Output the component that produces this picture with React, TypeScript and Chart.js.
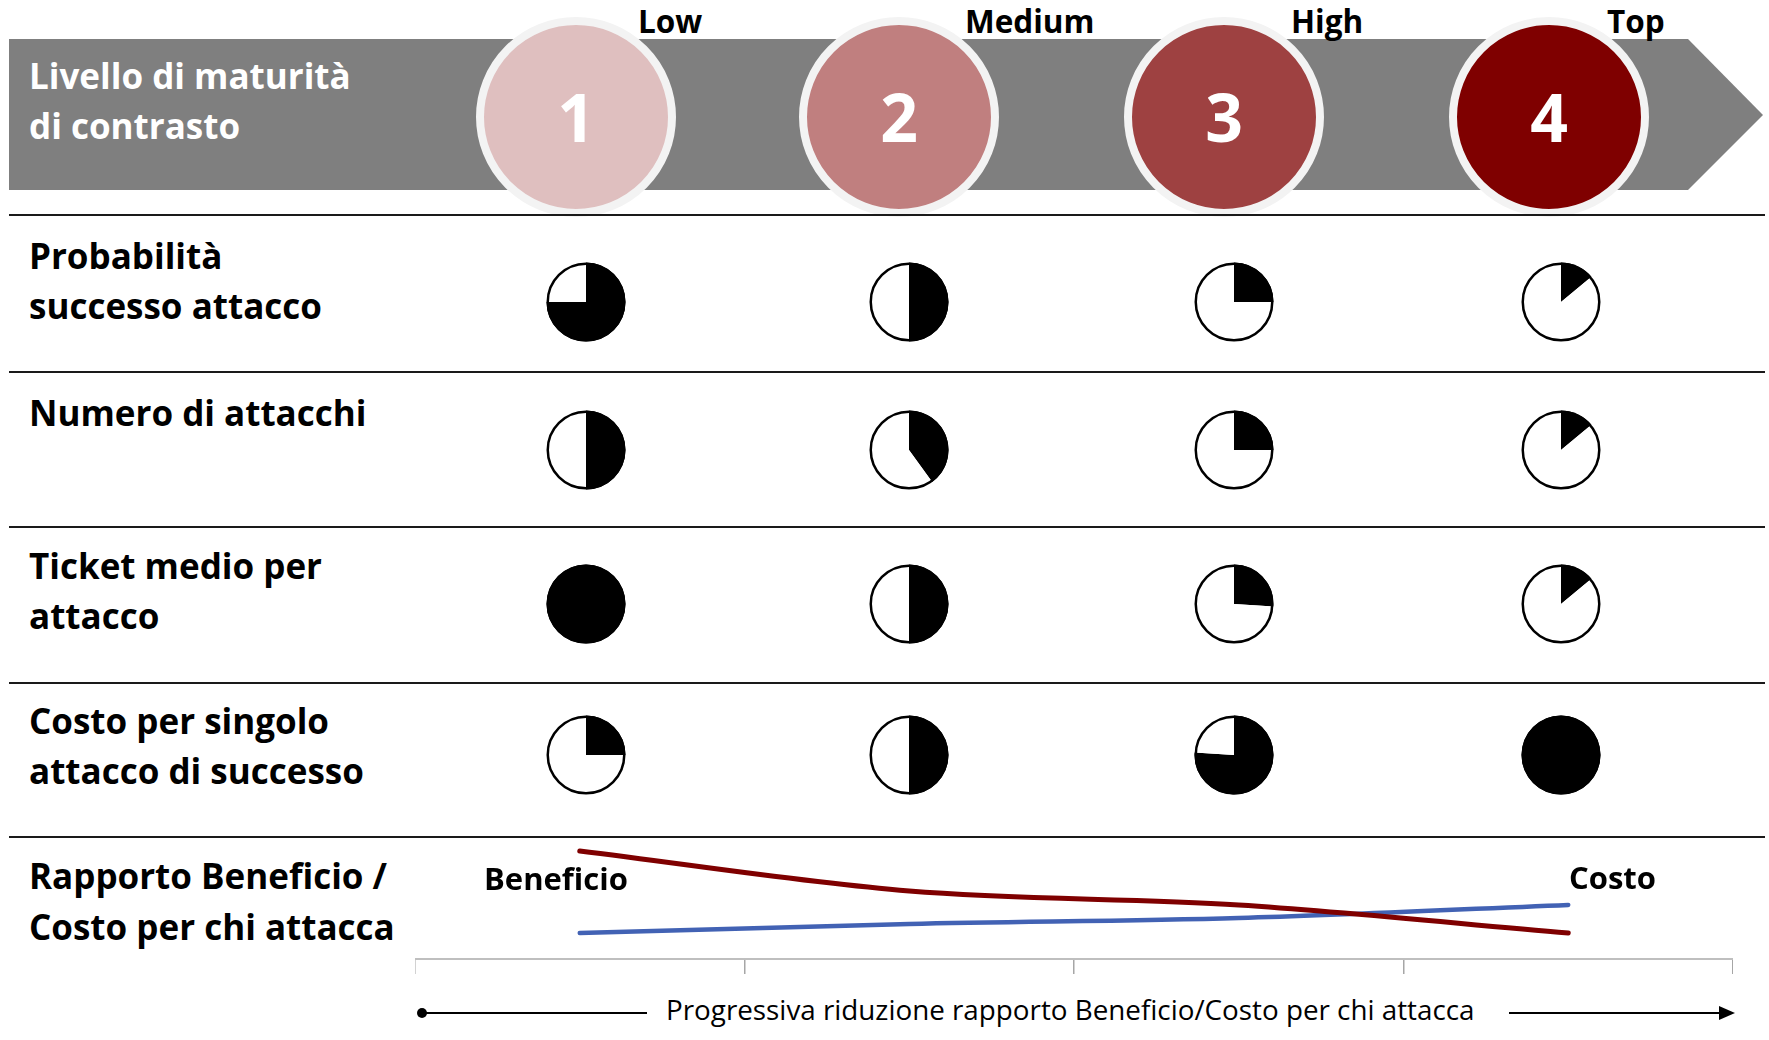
import React, { useEffect, useRef } from 'react';
import { Chart, registerables } from 'chart.js';

Chart.register(...registerables);

// ---- data ----
const levels = ['1', '2', '3', '4'];
const levelNames = ['Low', 'Medium', 'High', 'Top'];
const headerTitle = ['Livello di maturità', 'di contrasto'];

const rowLabels = [
  ['Probabilità', 'successo attacco'],
  ['Numero di attacchi'],
  ['Ticket medio per', 'attacco'],
  ['Costo per singolo', 'attacco di successo'],
];

// share of each pie filled in black, per maturity level
const probabilitaSuccesso = [0.75, 0.5, 0.25, 0.14];
const numeroAttacchi = [0.5, 0.4, 0.25, 0.14];
const ticketMedio = [1, 0.5, 0.26, 0.14];
const costoSingolo = [0.25, 0.5, 0.76, 1];

const ratioLabel = ['Rapporto Beneficio /', 'Costo per chi attacca'];
const beneficio = [9.15, 5.76, 4.58, 2.2];
const costo = [2.2, 2.97, 3.47, 4.58];
const axisCaption = 'Progressiva riduzione rapporto Beneficio/Costo per chi attacca';

// ---- styles & layout ----
const FONT = '"Open Sans", "DejaVu Sans", sans-serif';
const levelFill = ['#dfbfbf', '#c07f7f', '#9e4141', '#7f0000'];
const circleX = [576, 899, 1224, 1549];
const circleY = 117;
const levelNameX = [638, 965, 1291, 1607];
const pieX = [586, 909, 1234, 1561];
const pieY = [302, 450, 604, 755];
const rowLabelTop = [231, 388, 541, 696];
const separatorsY = [215, 372, 527, 683, 837];
const RED = '#7f0000';
const BLUE = '#4262b4';

const pieRows = [probabilitaSuccesso, numeroAttacchi, ticketMedio, costoSingolo];

// Outline drawn around the whole pie, using the arc geometry computed by Chart.js
const pieOutline = {
  id: 'pieOutline',
  afterDatasetsDraw(chart: any, _args: any, opts: any) {
    const arc = chart.getDatasetMeta(0).data[0];
    if (!arc) return;
    const { x, y, outerRadius } = arc.getProps(['x', 'y', 'outerRadius'], true);
    const ctx = chart.ctx;
    ctx.save();
    ctx.beginPath();
    ctx.lineWidth = opts.width;
    ctx.strokeStyle = opts.color;
    ctx.arc(x, y, outerRadius - opts.width / 2, 0, Math.PI * 2);
    ctx.stroke();
    ctx.restore();
  },
};

function PieCell({ value, cx, cy }: { value: number; cx: number; cy: number }) {
  const ref = useRef<HTMLCanvasElement>(null);
  useEffect(() => {
    const chart = new Chart(ref.current as HTMLCanvasElement, {
      type: 'pie',
      data: {
        labels: ['pieno', 'vuoto'],
        datasets: [
          {
            data: [value, 1 - value],
            backgroundColor: ['#000000', '#ffffff'],
            borderWidth: 0,
          },
        ],
      },
      options: {
        responsive: false,
        animation: false,
        events: [],
        layout: { padding: 2.5 },
        plugins: {
          legend: { display: false },
          tooltip: { enabled: false },
          pieOutline: { width: 2.5, color: '#000000' },
        } as any,
      },
      plugins: [pieOutline],
    });
    return () => chart.destroy();
  }, [value]);
  return (
    <canvas
      ref={ref}
      width={84}
      height={84}
      style={{ position: 'absolute', left: cx - 42, top: cy - 42, width: 84, height: 84 }}
    />
  );
}

function RatioChart() {
  const ref = useRef<HTMLCanvasElement>(null);
  useEffect(() => {
    const chart = new Chart(ref.current as HTMLCanvasElement, {
      type: 'line',
      data: {
        labels: levels,
        datasets: [
          {
            label: 'Beneficio',
            data: beneficio,
            borderColor: RED,
            borderWidth: 5,
            borderCapStyle: 'round',
            cubicInterpolationMode: 'monotone',
            pointRadius: 0,
            fill: false,
            clip: false as any,
          },
          {
            label: 'Costo',
            data: costo,
            borderColor: BLUE,
            borderWidth: 4.5,
            borderCapStyle: 'round',
            cubicInterpolationMode: 'monotone',
            pointRadius: 0,
            fill: false,
            clip: false as any,
          },
        ],
      },
      options: {
        responsive: false,
        animation: false,
        events: [],
        layout: { padding: 0 },
        plugins: { legend: { display: false }, tooltip: { enabled: false } },
        scales: {
          x: {
            offset: true,
            grid: {
              offset: true,
              drawOnChartArea: false,
              drawTicks: true,
              tickLength: 15,
              color: '#a6a6a6',
              lineWidth: 1.5,
            },
            border: { display: true, color: '#bfbfbf', width: 2 },
            ticks: { display: false },
          },
          y: { display: false, min: 0, max: 10 },
        },
      },
    });
    return () => chart.destroy();
  }, []);
  return (
    <canvas
      ref={ref}
      width={1318}
      height={133}
      style={{ position: 'absolute', left: 415, top: 841, width: 1318, height: 133 }}
    />
  );
}

function Text({
  children,
  left,
  top,
  size,
  weight = 700,
  color = '#000',
  lineHeight,
  width,
  align,
}: any) {
  return (
    <div
      style={{
        position: 'absolute',
        left,
        top,
        width,
        textAlign: align,
        fontFamily: FONT,
        fontSize: size,
        fontWeight: weight,
        color,
        lineHeight: lineHeight ? `${lineHeight}px` : 1,
        whiteSpace: 'nowrap',
      }}
    >
      {children}
    </div>
  );
}

export default function App() {
  return (
    <div
      style={{
        position: 'fixed',
        left: 0,
        top: 0,
        width: 1769,
        height: 1040,
        background: '#ffffff',
        overflow: 'hidden',
      }}
    >
      <svg width={1769} height={1040} style={{ position: 'absolute', left: 0, top: 0 }}>
        <polygon points="9,39 1688,39 1763,115 1688,190 9,190" fill="#7f7f7f" />
        {levels.map((l, i) => (
          <circle key={l} cx={circleX[i]} cy={circleY} r={96} fill={levelFill[i]} stroke="#f3f3f3" strokeWidth={8} />
        ))}
        {separatorsY.map((y) => (
          <line key={y} x1={9} x2={1765} y1={y} y2={y} stroke="#1a1a1a" strokeWidth={2} />
        ))}
        {/* caption arrow */}
        <circle cx={422} cy={1013} r={5} fill="#000" />
        <line x1={422} x2={647} y1={1013} y2={1013} stroke="#000" strokeWidth={2} />
        <line x1={1509} x2={1722} y1={1013} y2={1013} stroke="#000" strokeWidth={2} />
        <polygon points="1735,1013 1719,1006 1719,1020" fill="#000" />
      </svg>

      <Text left={29} top={51} size={35} color="#ffffff" lineHeight={50}>
        {headerTitle.map((t) => (
          <div key={t}>{t}</div>
        ))}
      </Text>

      {levels.map((l, i) => (
        <Text key={l} left={circleX[i] - 60} top={83} width={120} align="center" size={66} color="#ffffff">
          {l}
        </Text>
      ))}

      {levelNames.map((n, i) => (
        <Text key={n} left={levelNameX[i]} top={5} size={31.5}>
          {n}
        </Text>
      ))}

      {rowLabels.map((lines, r) => (
        <Text key={r} left={29} top={rowLabelTop[r]} size={35} lineHeight={50}>
          {lines.map((t) => (
            <div key={t}>{t}</div>
          ))}
        </Text>
      ))}

      {pieRows.map((row, r) =>
        row.map((v, c) => <PieCell key={`${r}-${c}`} value={v} cx={pieX[c]} cy={pieY[r]} />)
      )}

      <Text left={29} top={850} size={35} lineHeight={51}>
        {ratioLabel.map((t) => (
          <div key={t}>{t}</div>
        ))}
      </Text>

      <RatioChart />

      <Text left={484} top={863} size={31}>
        Beneficio
      </Text>
      <Text left={1569} top={862} size={31}>
        Costo
      </Text>

      <Text left={666} top={996} size={27.8} weight={400}>
        {axisCaption}
      </Text>
    </div>
  );
}
